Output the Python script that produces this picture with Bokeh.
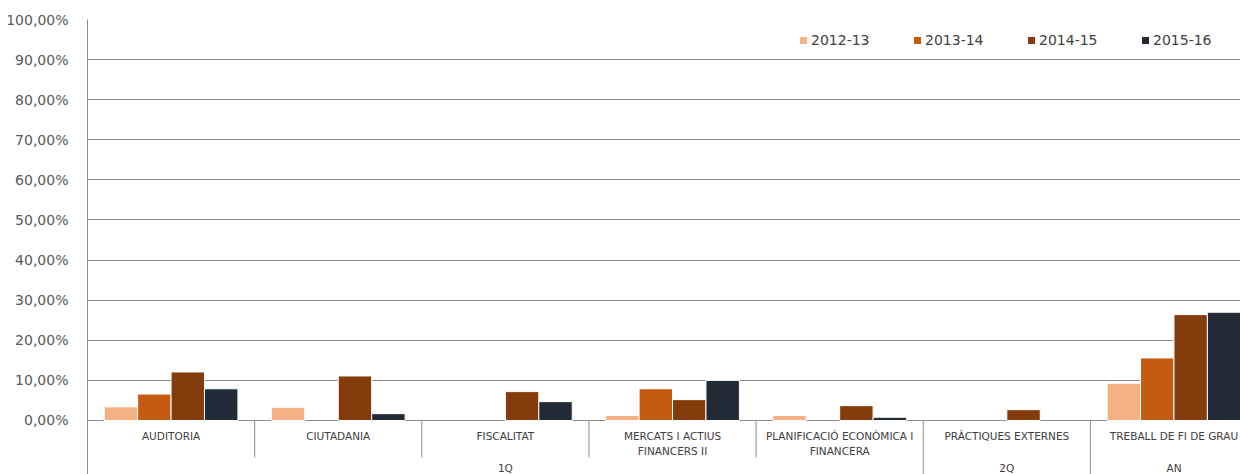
from bokeh.plotting import figure
from bokeh.models import FixedTicker, Range1d, Legend, LegendItem
from bokeh.core.properties import value
from bokeh.embed import file_html
from bokeh.resources import INLINE

categories = ["AUDITORIA", "CIUTADANIA", "FISCALITAT", "MERCATS I ACTIUS\nFINANCERS II",
              "PLANIFICACIÓ ECONÒMICA I\nFINANCERA", "PRÀCTIQUES EXTERNES", "TREBALL DE FI DE GRAU"]
groups = ["1Q", "2Q", "AN"]
group_sizes = [5, 1, 1]
years = ["2012-13", "2013-14", "2014-15", "2015-16"]
s2012_13 = [3.4, 3.3, 0.0, 1.25, 1.25, 0.0, 9.3]
s2013_14 = [6.6, 0.0, 0.0, 7.9, 0.0, 0.0, 15.6]
s2014_15 = [12.1, 11.1, 7.2, 5.2, 3.7, 2.7, 26.4]
s2015_16 = [7.9, 1.7, 4.7, 10.0, 0.8, 0.0, 27.0]
colors = ["#F4B183", "#C55A11", "#843C0C", "#222A35"]
yticks = [0, 10, 20, 30, 40, 50, 60, 70, 80, 90, 100]
tick_labels = {t: f"{t},00%" for t in yticks}

FONT = "DejaVu Sans"
GRID = "#8c8c8c"

p = figure(width=1240, height=474, output_backend="svg", toolbar_location=None,
           x_range=Range1d(0, 6.898), y_range=Range1d(-13.47, 100),
           x_axis_location=None, min_border_left=87, min_border_right=0,
           min_border_top=19, min_border_bottom=0)
p.outline_line_color = None
p.xgrid.visible = False
p.ygrid.ticker = FixedTicker(ticks=yticks)
p.ygrid.grid_line_color = GRID
p.ygrid.grid_line_width = 1

ax = p.yaxis[0]
ax.ticker = FixedTicker(ticks=yticks)
ax.major_label_overrides = tick_labels
ax.major_tick_line_color = None
ax.minor_tick_line_color = None
ax.major_tick_out = 0
ax.major_tick_in = 0
ax.major_label_standoff = 19
ax.axis_line_color = GRID
ax.major_label_text_font = FONT
ax.major_label_text_font_size = "14px"
ax.major_label_text_color = "#595959"

series = [s2012_13, s2013_14, s2014_15, s2015_16]
offsets = [-0.3, -0.1, 0.1, 0.3]
items = []
for name, vals, off, col in zip(years, series, offsets, colors):
    xs = [i + 0.5 + off for i, v in enumerate(vals) if v > 0]
    tops = [v for v in vals if v > 0]
    r = p.vbar(x=xs, top=tops, bottom=0, width=0.2, fill_color=col,
               line_color="white", line_width=1)
    items.append(LegendItem(label=name, renderers=[r]))

legend = Legend(items=items, orientation="horizontal", location=(711, 426),
                padding=0, margin=0, border_line_color=None, background_fill_alpha=0,
                glyph_width=10, glyph_height=10, label_standoff=3, label_width=100,
                spacing=1, label_height=14, label_text_font=FONT,
                label_text_font_size="14px", label_text_color="#404040")
p.add_layout(legend)

# category separators (short) and group separators (long)
ncat = len(categories)
group_bounds = set()
acc = 0
for n in group_sizes:
    acc += n
    group_bounds.add(acc)
sx, sy0, sy1 = [], [], []
for b in range(1, ncat + 1):
    sx.append(b)
    sy0.append(0)
    sy1.append(-13.47 if b in group_bounds else -9.2)
p.segment(x0=sx, y0=sy0, x1=sx, y1=sy1, line_color=GRID, line_width=1)

# category labels
p.text(x=[i + 0.5 for i in range(ncat)], y=[-2.3] * ncat, text=categories,
       text_align="center", text_baseline="top", text_font=value(FONT),
       text_font_size="10.5px", text_color="#404040", text_line_height=1.3)

# group labels
gx = []
acc = 0
for n in group_sizes:
    gx.append(acc + n / 2)
    acc += n
p.text(x=gx, y=[-10.3] * len(gx), text=groups, text_align="center",
       text_baseline="top", text_font=value(FONT), text_font_size="10.5px",
       text_color="#404040")

open("out.html", "w").write(file_html(p, INLINE))
